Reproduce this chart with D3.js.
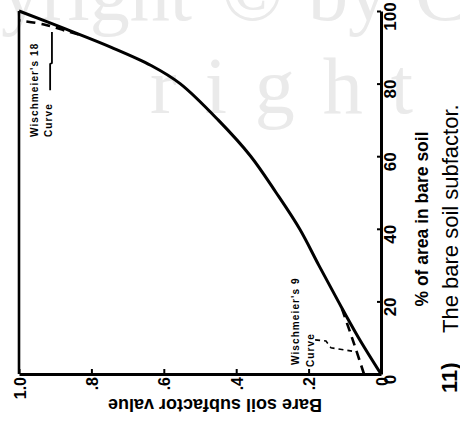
<!DOCTYPE html>
<html>
<head>
<meta charset="utf-8">
<script src="https://cdn.jsdelivr.net/npm/d3@7"></script>
<style>
  body { margin: 0; background: #fff; }
  svg { display: block; font-family: "Liberation Sans", Arial, sans-serif; }
</style>
</head>
<body>
<div id="chart"></div>
<script>
// the page is printed turned a quarter turn: % bare soil runs up the right side,
// the subfactor value runs along the bottom (1.0 left, 0 right)
var width = 460;
var height = 425;

var pctTicks = [0, 20, 40, 60, 80, 100];
var valueTicks = [0, 0.2, 0.4, 0.6, 0.8, 1.0];
var valueTickLabels = ["0", ".2", ".4", ".6", ".8", "1.0"];

// main curve
var curvePct = [0, 10, 20, 30, 40, 50, 60, 70, 80, 85, 90, 95, 100];
var curveValue = [0, 0.062, 0.118, 0.172, 0.225, 0.29, 0.36, 0.45, 0.555, 0.635, 0.745, 0.87, 1.0];

// Wischmeier's 18 curve (dashed, top)
var w18Pct = [93.5, 94.6, 96.3, 97.4];
var w18Value = [0.835, 0.873, 0.931, 1.0];

// Wischmeier's 9 curve (dashed, bottom)
var w9Pct = [18, 12, 7, 0];
var w9Value = [0.108, 0.087, 0.07, 0.047];

// leader lines for the two notes
var lead18Pct = [94.2, 85.7, 85.4, 78.2];
var lead18Value = [0.909, 0.909, 0.914, 0.914];
var lead9Pct = [9.4, 9.1, 7.2, 6.3];
var lead9Value = [0.182, 0.152, 0.138, 0.08];

var svg = d3.select("#chart")
  .append("svg")
  .attr("width", width)
  .attr("height", height);

svg.append("rect").attr("width", width).attr("height", height).attr("fill", "#fff");

// faint watermark of the scan
var wm = svg.append("g")
  .attr("fill", "#eaeaea")
  .attr("font-family", "'Liberation Serif', 'DejaVu Serif', serif")
  .attr("font-size", 80);
wm.append("text").attr("x", 192).attr("y", 20).attr("text-anchor", "end").text("Copyright");
wm.append("text").attr("x", 222).attr("y", 20).text("\u00a9");
wm.append("text").attr("x", 308).attr("y", 20).text("by");
wm.append("text").attr("x", 415).attr("y", 20).text("CRC");
wm.append("text").attr("x", 150).attr("y", 113).attr("letter-spacing", 28).text("right");

var yPct = d3.scaleLinear().domain([0, 100]).range([374, 11]);
var xVal = d3.scaleLinear().domain([0, 1]).range([381, 19]);

function zipPts(p, v) {
  return p.map(function(d, i) { return { p: d, v: v[i] }; });
}

var line = d3.line()
  .x(function(d) { return xVal(d.v); })
  .y(function(d) { return yPct(d.p); });

// left frame line at 1.0
svg.append("line")
  .attr("x1", xVal(1)).attr("x2", xVal(1))
  .attr("y1", yPct(0)).attr("y2", yPct(100))
  .attr("stroke", "#000").attr("stroke-width", 2.6);

// % axis on the right
var pctAxis = d3.axisRight(yPct)
  .tickValues(pctTicks)
  .tickSize(-4)
  .tickSizeOuter(0)
  .tickPadding(0);

var gp = svg.append("g")
  .attr("transform", "translate(" + xVal(0) + ",0)")
  .call(pctAxis);
gp.select(".domain").attr("stroke-width", 3);
gp.selectAll(".tick line").attr("stroke-width", 2);
gp.selectAll(".tick text")
  .attr("x", null).attr("dy", null)
  .attr("transform", "translate(15,5) rotate(-90)")
  .attr("text-anchor", "middle")
  .attr("font-size", 17)
  .attr("font-weight", "bold")
  .attr("fill", "#000");

// value axis along the bottom
var valAxis = d3.axisBottom(xVal)
  .tickValues(valueTicks)
  .tickFormat(function(d, i) { return valueTickLabels[i]; })
  .tickSize(-5)
  .tickSizeOuter(0)
  .tickPadding(0);

var gv = svg.append("g")
  .attr("transform", "translate(0," + yPct(0) + ")")
  .call(valAxis);
gv.select(".domain").attr("stroke-width", 2.8);
gv.selectAll(".tick line").attr("stroke-width", 2);
gv.selectAll(".tick text")
  .attr("y", null).attr("dy", null)
  .attr("transform", "translate(6,3) rotate(-90)")
  .attr("text-anchor", "end")
  .attr("font-size", 16)
  .attr("font-weight", "bold")
  .attr("fill", "#000");

// curves
svg.append("path")
  .datum(zipPts(curvePct, curveValue))
  .attr("d", line.curve(d3.curveCatmullRom))
  .attr("fill", "none").attr("stroke", "#000").attr("stroke-width", 3);

svg.append("path")
  .datum(zipPts(w18Pct, w18Value))
  .attr("d", line.curve(d3.curveCatmullRom))
  .attr("fill", "none").attr("stroke", "#000").attr("stroke-width", 2.6)
  .attr("stroke-dasharray", "9,6");

svg.append("path")
  .datum(zipPts(w9Pct, w9Value))
  .attr("d", line.curve(d3.curveCatmullRom))
  .attr("fill", "none").attr("stroke", "#000").attr("stroke-width", 2.6)
  .attr("stroke-dasharray", "9,6");

svg.append("path")
  .datum(zipPts(lead18Pct, lead18Value))
  .attr("d", line.curve(d3.curveLinear))
  .attr("fill", "none").attr("stroke", "#000").attr("stroke-width", 1.8);

svg.append("path")
  .datum(zipPts(lead9Pct, lead9Value))
  .attr("d", line.curve(d3.curveLinear))
  .attr("fill", "none").attr("stroke", "#000").attr("stroke-width", 1.6)
  .attr("stroke-dasharray", "5,4");

// notes
function note(x, y, txt) {
  svg.append("text")
    .attr("transform", "translate(" + x + "," + y + ") rotate(-90)")
    .attr("font-size", 10)
    .attr("font-weight", "bold")
    .attr("letter-spacing", 1.1)
    .text(txt);
}
note(38, 137, "Wischmeier's 18");
note(52, 137, "Curve");
note(299, 365, "Wischmeier's 9");
note(314, 367, "Curve");

// axis titles and caption
svg.append("text")
  .attr("transform", "translate(428,219) rotate(-90)")
  .attr("text-anchor", "middle")
  .attr("font-size", 17.5)
  .attr("font-weight", "bold")
  .text("% of area in bare soil");

svg.append("text")
  .attr("transform", "translate(215,399) rotate(180)")
  .attr("text-anchor", "middle")
  .attr("font-size", 18)
  .attr("font-weight", "bold")
  .text("Bare soil subfactor value");

svg.append("text")
  .attr("transform", "translate(458,333) rotate(-90)")
  .attr("font-size", 22)
  .text("The bare soil subfactor.");

svg.append("text")
  .attr("transform", "translate(457,393) rotate(-90)")
  .attr("font-size", 22)
  .attr("font-weight", "bold")
  .text("11)");
</script>
</body>
</html>
